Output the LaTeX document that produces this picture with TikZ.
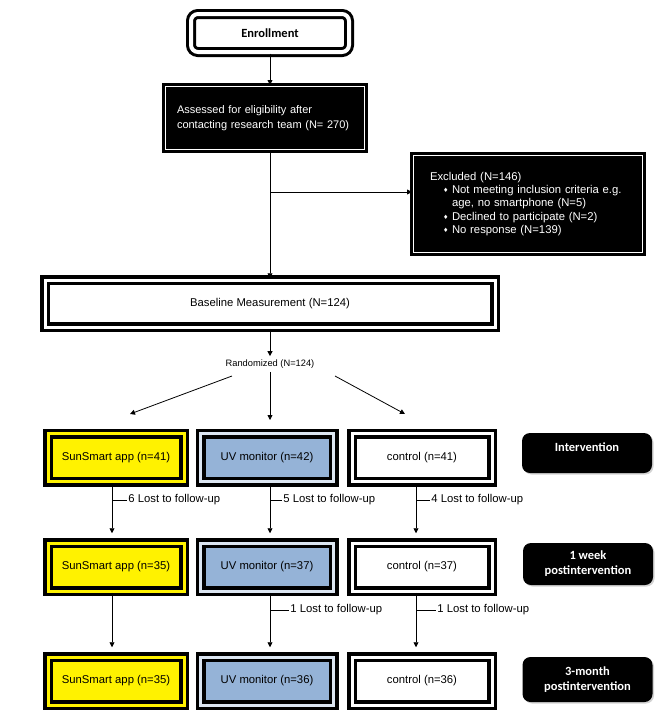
\documentclass[tikz,border=0pt]{standalone}
\usepackage{fontspec}
\setmainfont{Liberation Sans}
\newfontfamily\calib{Carlito}
\newfontfamily\symfnt{DejaVu Sans}
\usetikzlibrary{arrows.meta,shadows}
\definecolor{uvblue}{HTML}{95B3D7}
\definecolor{uvgap}{HTML}{DCE6F2}
\newcommand{\bul}{\makebox[9pt][l]{\symfnt\fontsize{6}{6}\selectfont\raisebox{0.8pt}{♦}}}
\tikzset{
  every node/.style={font=\fontsize{11.3}{14}\selectfont},
  arm/.style={draw, line width=3.5pt, double distance=3pt, outer sep=auto, minimum height=48pt},
  sun/.style={arm, fill=yellow, double=yellow, minimum width=136pt},
  uv/.style={arm, fill=uvblue, double=uvgap, minimum width=133pt},
  ctl/.style={arm, fill=white, double=white, minimum width=140pt},
  dark/.style={draw, fill=black, line width=3pt, double=white, double distance=1.2pt, outer sep=auto, text=white},
  phase/.style={fill=black, rounded corners=8pt, text=white, align=center, minimum width=130pt,
    font=\calib\bfseries\fontsize{12.5}{15}\selectfont,
    drop shadow={shadow xshift=1.5pt, shadow yshift=-1.5pt, opacity=0.35, fill=gray}},
  conn/.style={line width=0.8pt, -{Triangle[width=5pt,length=5pt]}},
  lost/.style={anchor=west, inner sep=1pt}
}

\begin{document}
\begin{tikzpicture}[x=1pt,y=-1pt]
\useasboundingbox (0,0) rectangle (665,713);

\node[draw, line width=3pt, double=white, double distance=4pt, outer sep=auto, rounded corners=7pt,
  minimum width=158pt, minimum height=38pt, font=\calib\bfseries\fontsize{12.5}{15}\selectfont] (enroll) at (270,33) {Enrollment};
\node[dark, minimum width=199pt, minimum height=63pt, text width=176pt, align=left,
  font=\fontsize{11}{15}\selectfont] (assess) at (265,118) {Assessed for eligibility after\\contacting research team (N= 270)};
\node[dark, minimum width=229pt, minimum height=97pt, text width=196pt, align=left,
  font=\fontsize{11.3}{13.3}\selectfont] (excl) at (528,204) {Excluded (N=146)\\
  \hspace*{13pt}\bul Not meeting inclusion criteria e.g.\\
  \hspace*{22pt}age, no smartphone (N=5)\\
  \hspace*{13pt}\bul Declined to participate (N=2)\\
  \hspace*{13pt}\bul No response (N=139)};
\node[arm, double=white, minimum width=450pt, minimum height=47pt] (base) at (270,303.5) {Baseline Measurement (N=124)};
\node[font=\fontsize{9.3}{11}\selectfont] (rand) at (270,364) {Randomized (N=124)};

\node[sun] (sun1) at (116,457.5) {SunSmart app (n=41)};
\node[uv] (uv1) at (267,457.5) {UV monitor (n=42)};
\node[ctl] (ctl1) at (422,457.5) {control (n=41)};
\node[sun] (sun2) at (116,567) {SunSmart app (n=35)};
\node[uv] (uv2) at (267,567) {UV monitor (n=37)};
\node[ctl] (ctl2) at (422,567) {control (n=37)};
\node[sun] (sun3) at (116,681) {SunSmart app (n=35)};
\node[uv] (uv3) at (267,681) {UV monitor (n=36)};
\node[ctl] (ctl3) at (422,681) {control (n=36)};

\node[phase, minimum height=40pt, text depth=12pt] (ph1) at (587,453) {Intervention};
\node[phase, minimum height=42pt] (ph2) at (588,564) {1 week\\postintervention};
\node[phase, minimum height=45pt] (ph3) at (587.5,679.5) {3-month\\postintervention};

\coordinate (br) at (270,192);
\coordinate (s1) at (232,376);
\coordinate (e1) at (130,414);
\coordinate (s3) at (335,376);
\coordinate (e3) at (405,414);
\coordinate (e2) at (270,420);

\draw[conn] (enroll.south) -- (enroll.south |- assess.north);
\draw[conn] (assess.south -| enroll.south) -- (base.north -| enroll.south);
\draw[conn] (br) -- (br -| excl.west);
\draw[conn] (base) -- (rand);
\draw[conn] (s1) -- (e1);
\draw[conn] (rand.south) -- (e2);
\draw[conn] (s3) -- (e3);

\foreach \a/\b/\x in {sun1/sun2/112, uv1/uv2/270, ctl1/ctl2/416, sun2/sun3/112, uv2/uv3/270, ctl2/ctl3/416}
  \draw[conn, shorten >=8pt] (\x,0 |- \a.south) -- (\x,0 |- \b.north);
\foreach \x/\y/\l/\n in {112/500/15/6, 270/500/12/5, 416/500/14/4, 270/610/19/1, 416/610/20/1}
  \draw[line width=0.8pt] (\x,\y) -- ++(\l,0) node[lost] (lost\x\y) {\n\ Lost to follow-up};
\end{tikzpicture}
\end{document}
